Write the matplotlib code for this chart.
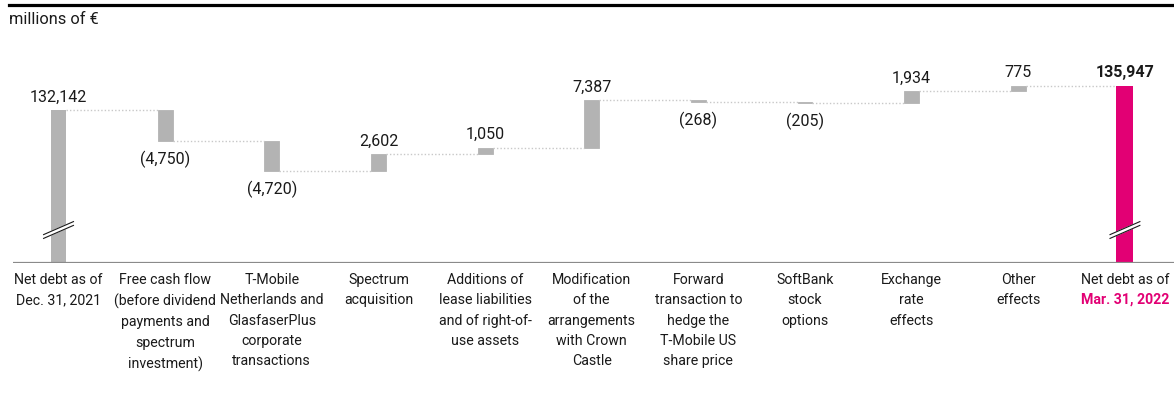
import matplotlib.pyplot as plt
import matplotlib.transforms as mtransforms
from matplotlib.lines import Line2D
import numpy as np

plt.rcParams['font.family'] = ['Roboto', 'DejaVu Sans']

# data
categories = [
    "Net debt as of\nDec. 31, 2021",
    "Free cash flow\n(before dividend\npayments and\nspectrum\ninvestment)",
    "T-Mobile\nNetherlands and\nGlasfaserPlus\ncorporate\ntransactions",
    "Spectrum\nacquisition",
    "Additions of\nlease liabilities\nand of right-of-\nuse assets",
    "Modification\nof the\narrangements\nwith Crown\nCastle",
    "Forward\ntransaction to\nhedge the\nT-Mobile US\nshare price",
    "SoftBank\nstock\noptions",
    "Exchange\nrate\neffects",
    "Other\neffects",
    "Net debt as of",
]
last_date = "Mar. 31, 2022"
start_total = 132142
changes = [-4750, -4720, 2602, 1050, 7387, -268, -205, 1934, 775]
end_total = 135947

GRAY = "#b3b3b3"
MAGENTA = "#e20074"
TEXT = "#1a1a1a"
Y_MIN, Y_MAX = 108300, 138450

def fmt(v):
    s = f"{abs(v):,}"
    return f"({s})" if v < 0 else s

fig = plt.figure(figsize=(11.74, 4.16), dpi=100)
ax = fig.add_axes([13 / 1174, 1 - 263 / 416, 1 - 13 / 1174, (263 - 70) / 416])
ax.set_xlim(-0.427, 10.46)
ax.set_ylim(Y_MIN, Y_MAX)
ax.axis("off")

n = len(categories)
x = np.arange(n)
w = 0.14

# totals
ax.bar(0, start_total - Y_MIN, bottom=Y_MIN, width=w, color=GRAY)
ax.bar(n - 1, end_total - Y_MIN, bottom=Y_MIN, width=0.16, color=MAGENTA)

levels = [start_total]
for c in changes:
    levels.append(levels[-1] + c)

for i, c in enumerate(changes, start=1):
    prev = levels[i - 1]
    ax.bar(i, abs(c), bottom=min(prev, prev + c), width=w, color=GRAY,
           edgecolor=GRAY, linewidth=0.6)

# connectors
for i in range(n - 1):
    lvl = levels[i]
    x0 = i + (w / 2)
    x1 = i + 1 - (0.16 / 2 if i + 1 == n - 1 else w / 2)
    ax.plot([x0, x1], [lvl, lvl], color="#c8c8c8", linestyle=(0, (1, 1.5)),
            linewidth=1.0, zorder=1)

# value labels
ax.annotate(fmt(start_total), (0, start_total), xytext=(0, 4), textcoords="offset points",
            ha="center", va="bottom", fontsize=11.5, color=TEXT)
for i, c in enumerate(changes, start=1):
    top = max(levels[i - 1], levels[i])
    bot = min(levels[i - 1], levels[i])
    if c > 0:
        ax.annotate(fmt(c), (i, top), xytext=(0, 4), textcoords="offset points",
                    ha="center", va="bottom", fontsize=11.5, color=TEXT)
    else:
        ax.annotate(fmt(c), (i, bot), xytext=(0, -7), textcoords="offset points",
                    ha="center", va="top", fontsize=11.5, color=TEXT)
ax.annotate(fmt(end_total), (n - 1, end_total), xytext=(0, 4), textcoords="offset points",
            ha="center", va="bottom", fontsize=11.5, color=TEXT, fontweight="bold")

# baseline
ax.axhline(Y_MIN, color="#8a8a8a", linewidth=1.6, zorder=3)

# axis break marks
y_px = (Y_MAX - Y_MIN) / 193.0
for i in (0, n - 1):
    yb = Y_MIN + 33 * y_px
    xs = [i - 0.14, i + 0.14]
    ys = [yb - 6.5 * y_px, yb + 6.5 * y_px]
    ax.plot(xs, ys, color="white", linewidth=3.2, solid_capstyle="butt", zorder=4)
    for off in (-1.9, 1.9):
        ax.plot(xs, [v + off * y_px for v in ys], color=TEXT, linewidth=0.8, zorder=5)

# category labels
trans = mtransforms.blended_transform_factory(ax.transData, ax.transAxes)
for i, lab in enumerate(categories):
    ax.text(i, -10 / 193, lab, transform=trans, ha="center", va="top",
            fontsize=10.2, color=TEXT, linespacing=1.57)
ax.text(n - 1, -30 / 193, last_date, transform=trans, ha="center", va="top",
        fontsize=10.2, color=MAGENTA, fontweight="bold")

# header
fig.add_artist(Line2D([9 / 1174, 1], [1 - 4.8 / 416] * 2, color="black", linewidth=2.3))
fig.text(9 / 1174, 1 - 20 / 416, "millions of €", ha="left", va="center",
         fontsize=11.8, color=TEXT)

fig.savefig("out.png", dpi=100)
